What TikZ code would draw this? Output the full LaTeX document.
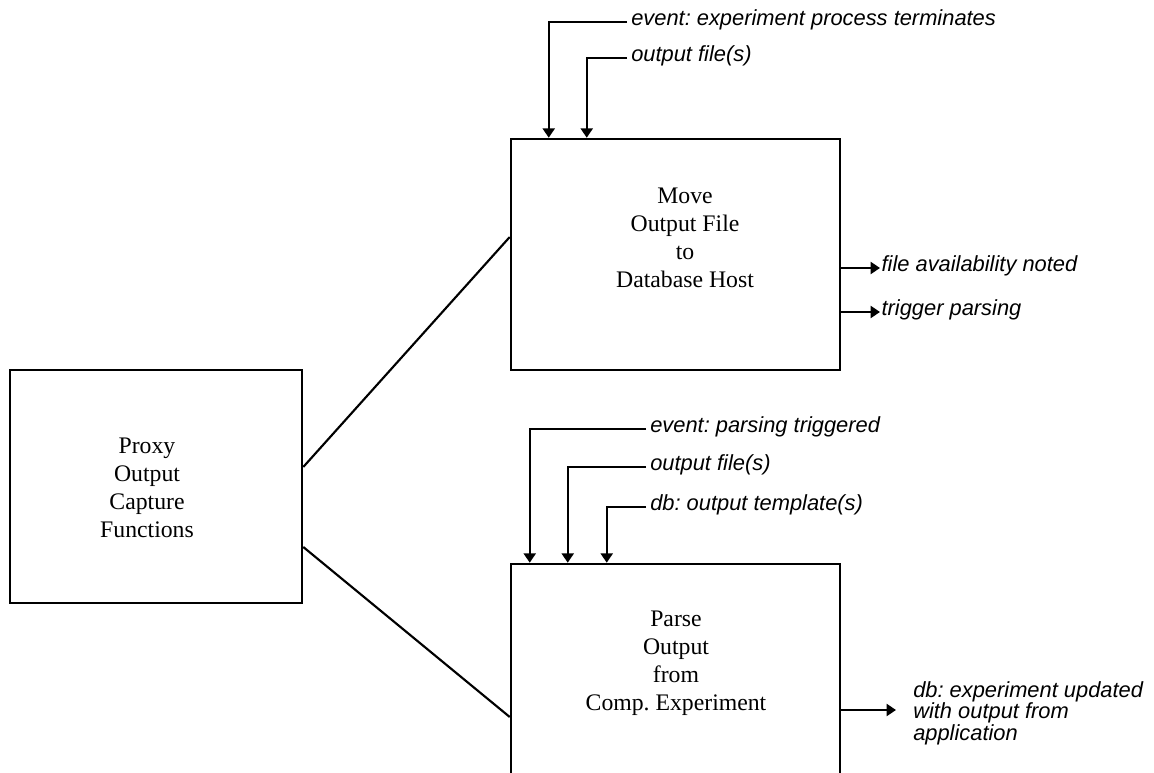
\documentclass[tikz,border=0pt]{standalone}
\usepackage{fontspec}
\setmainfont{Liberation Serif}
\newfontfamily\lblfont{Liberation Sans}
\usetikzlibrary{arrows.meta,calc}
\frenchspacing
\tikzset{
  box/.style={draw, line width=1.9pt, rectangle, inner sep=0pt},
  boxtext/.style={align=center, inner sep=0pt, font=\fontsize{17.8pt}{21pt}\selectfont},
  lbl/.style={inner ysep=0pt, inner xsep=3pt, anchor=west, text height=0.72em, text depth=0.21em,
              font=\lblfont\itshape\fontsize{16.4pt}{19pt}\selectfont},
  conn/.style={line width=1.6pt},
  arr/.style={line width=1.5pt, -{Triangle[length=7pt,width=9pt]}},
}
\begin{document}
\frenchspacing
\begin{tikzpicture}[x=0.75pt,y=-0.75pt]
\useasboundingbox (0,0) rectangle (1154,773);
\clip (0,0) rectangle (1154,773);
% boxes
\node[box, minimum width=219pt, minimum height=174.75pt] (proxy) at (156,486.5) {};
\node[box, minimum width=246.75pt, minimum height=173.25pt] (move) at (675.5,254.5) {};
\node[box, minimum width=246.75pt, minimum height=177pt] (parse) at (675.5,682) {};
% box texts
\node[boxtext] (proxyt) at (147,488) {Proxy\\Output\\Capture\\Functions};
\node[boxtext] (movet) at (685,238) {Move\\Output File\\to\\Database Host};
\node[boxtext] (parset) at (676,663) {Parse\\Output\\from\\Comp. Experiment};
% links from proxy
\draw[conn] ($(proxy.east)+(0,-19.5)$) -- ($(move.west)+(0,-17.5)$);
\draw[conn] ($(proxy.east)+(0,60.5)$) -- ($(parse.west)+(0,35)$);
% inputs to move
\node[lbl] (ev1) at (627,22) {event: experiment process terminates};
\node[lbl] (of1) at (627,58) {output file(s)};
\draw[arr] (ev1.west) -| ($(move.north west)+(39,0)$);
\draw[arr] (of1.west) -| ($(move.north west)+(77,0)$);
% outputs from move
\node[lbl, inner xsep=1pt] (fa) at (880,268) {file availability noted};
\node[lbl, inner xsep=1pt] (tp) at (880,312) {trigger parsing};
\draw[arr] (move.east |- fa.west) -- (fa.west);
\draw[arr] (move.east |- tp.west) -- (tp.west);
% inputs to parse
\node[lbl] (ev2) at (646,429) {event: parsing triggered};
\node[lbl] (of2) at (646,467) {output file(s)};
\node[lbl] (db1) at (646,507) {db: output template(s)};
\draw[arr] (ev2.west) -| ($(parse.north west)+(20,0)$);
\draw[arr] (of2.west) -| ($(parse.north west)+(58,0)$);
\draw[arr] (db1.west) -| ($(parse.north west)+(97,0)$);
% output from parse
\coordinate (dbend) at (896,710);
\node[anchor=north west, align=left, inner sep=0pt,
      font=\lblfont\itshape\fontsize{16.4pt}{16.3pt}\selectfont] (dbout) at (913,681)
  {db: experiment updated\\with output from\\application};
\draw[arr] (parse.east |- dbend) -- (dbend);
\end{tikzpicture}
\end{document}
